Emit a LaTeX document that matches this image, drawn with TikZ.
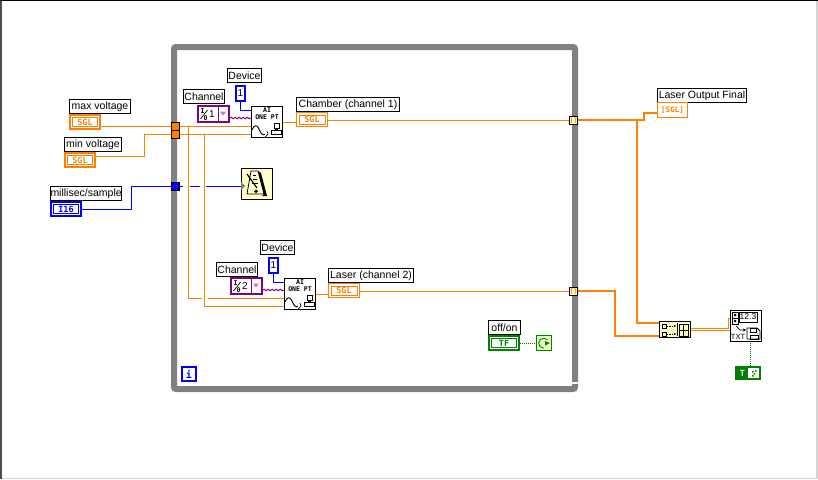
\documentclass[tikz,border=0pt]{standalone}
\usepackage{fontspec}
\setmainfont{Liberation Sans}
\newfontfamily\termfont{DejaVu Sans Mono}
\usetikzlibrary{arrows.meta,decorations.pathmorphing}
\pgfdeclarelayer{bg}
\pgfsetlayers{bg,main}
\definecolor{lvorange}{HTML}{FF8000}
\definecolor{lvblue}{HTML}{0000FF}
\definecolor{lvgreen}{HTML}{007F00}
\definecolor{lvpurple}{HTML}{800080}
\definecolor{lvcream}{HTML}{FFFFCC}
\definecolor{lvstop}{HTML}{E8FFC0}
\tikzset{
    every node/.style={rectangle, inner sep=0mm, draw, anchor=north west, line width=1pt},
    lbl/.style={fill=white, minimum height=14pt, font=\fontsize{10.5}{12}\selectfont},
    icontxt/.style={draw=none, anchor=center, font=\termfont\bfseries\fontsize{6.5}{7}\selectfont, align=center},
    boxed/.style={minimum width=31pt, minimum height=31pt, fill=white},
    inset/.style={path picture={\draw[#1, line width=1pt] ([shift={(2.5pt,2.5pt)}]path picture bounding box.south west) rectangle ([shift={(-2.5pt,-2.5pt)}]path picture bounding box.north east);}},
    sglctl/.style={draw=lvorange, text=lvorange, line width=2pt, fill=white, inset=lvorange, minimum width=30pt, minimum height=14pt, font=\termfont\bfseries\fontsize{8.5}{9}\selectfont},
    sglind/.style={draw=lvorange, text=lvorange, fill=white, inset=lvorange, minimum width=31pt, minimum height=14pt, font=\termfont\bfseries\fontsize{8.5}{9}\selectfont},
    constbox/.style={draw=lvblue, line width=2pt, fill=white, minimum width=9pt, minimum height=15pt, font=\fontsize{10}{11}\selectfont},
    tunnel/.style={draw=black, minimum width=8pt, minimum height=8pt},
    wire/.style={lvorange, line width=1pt},
    fatwire/.style={lvorange, line width=2pt},
    bluewire/.style={lvblue, line width=1pt},
    greenwire/.style={lvgreen, line width=1pt, dash pattern=on 1pt off 1pt},
    ringwire/.style={lvpurple, line width=1pt, decorate, decoration={snake, amplitude=.8pt, segment length=4pt}}
}
% ring control with the I/0 glyph
\newcommand{\ringbox}[4]{
    \node (#1) [draw=lvpurple, line width=2pt, fill=white, minimum width=31pt, minimum height=16pt] at (#2,#3) {};
    \node (#1val) [draw=none, anchor=center, font=\fontsize{10}{11}\selectfont] at (#2+15,#3+9) {#4};
    \node (#1i) [icontxt] at (#2+5.5,#3+6.5) {I};
    \node (#1o) [icontxt] at (#2+8.5,#3+13) {0};
    \draw[line width=.7pt] (#2+3.5,#3+14) -- (#2+10.5,#3+5);
    \draw[lvpurple, line width=1pt] (#2+21,#3) -- (#2+21,#3+18);
    \fill[lvpurple!50] (#2+23,#3+6.7) -- (#2+29,#3+6.7) -- (#2+26,#3+10.5) -- cycle;
}
% analog input glyph
\newcommand{\aiglyph}[2]{
    \begin{scope}[shift={(#1,#2)}]
        \draw[line width=.9pt] (1,24) .. controls (3,19) and (6,18) .. (8,23) .. controls (10,28) and (12,30) .. (14,28);
        \draw[line width=.7pt] (16,25) -- (17,28) -- (14,31);
        \draw[line width=.8pt] (23,17) rectangle (28,22);
        \draw[line width=.8pt] (20,24) rectangle (30,28);
        \draw[line width=.8pt] (24,23) -- (27,23);
    \end{scope}
}
\begin{document}
\begin{tikzpicture}[x=1pt,y=-1pt]
        \useasboundingbox (0,0) rectangle (818,479);
        \fill[black!70] (0,0) rectangle (2,479);
        \fill[black] (0,0) rectangle (818,1);
        \fill[black!17] (2,477.5) rectangle (818,479);
        \fill[black!17] (816,1) rectangle (818,479);
        \node (whileloop) [draw=gray, line width=6pt, rounded corners=2pt, minimum width=401pt, minimum height=342pt] at (171,44) {};
        \fill[white] (571,382) rectangle (579,384);
        % left side terminals
        \node (maxlbl) [lbl, minimum width=61pt] at (69,99) {max voltage};
        \node (maxterm) [sglctl] at (69,114) {SGL};
        \node (minlbl) [lbl, minimum width=57pt] at (64,137) {min voltage};
        \node (minterm) [sglctl] at (64,152) {SGL};
        \node (msecslbl) [lbl, minimum width=71pt] at (50,186) {millisec/sample};
        \node (msecsterm) [sglctl, draw=lvblue, text=lvblue, inset=lvblue] at (50,201) {I16};
        % tunnels
        \node (maxtun) [tunnel, fill=lvorange] at (171,122) {};
        \node (mintun) [tunnel, fill=lvorange] at (171,130) {};
        \node (msecstun) [tunnel, fill=lvblue] at (171,182) {};
        \node (chtun) [tunnel, fill=lvcream, text=lvorange, font=\termfont\bfseries\fontsize{6}{6}\selectfont] at (569,116) {[]};
        \node (lastun) [tunnel, fill=lvcream, text=lvorange, font=\termfont\bfseries\fontsize{6}{6}\selectfont] at (569,287) {[]};
        % first channel
        \node (dev1lbl) [lbl, minimum width=34pt] at (227,68) {Device};
        \node (dev1) [constbox] at (235,85) {1};
        \node (chn1lbl) [lbl, minimum width=41pt] at (183,89) {Channel};
        \ringbox{chn1}{197}{105}{1}
        \node (ai1) [boxed] at (251,106) {};
        \node (ai1txt) [icontxt] at (267,113.5) {AI\\ONE PT};
        \aiglyph{251}{106}
        \node (chlbl) [lbl, minimum width=103pt] at (296,97) {Chamber (channel 1)};
        \node (chterm) [sglind] at (296,112) {SGL};
        \node (metro) [boxed, fill=lvcream] at (241,168) {};
        \begin{scope}[shift={(241,168)}]
            \draw[fill=lvcream, line width=.8pt] (10,3) -- (17,3) -- (23,26) -- (6,26) -- cycle;
            \fill (17,3) -- (20,5) -- (26,28) -- (21,28) -- (23,26) -- cycle;
            \draw[line width=1.2pt] (6,6) -- (16,20);
            \draw[line width=.7pt] (12,7) -- (15,7) (11.5,11) -- (16,11) (11,15) -- (17,15);
            \fill (15,21.5) -- (17,23.5) -- (15,25) -- (13,23.5) -- cycle;
            \fill[gray] (0,14) -- (4,18) -- (0,22) -- cycle;
        \end{scope}
        % second channel
        \node (dev2lbl) [lbl, minimum width=34pt] at (260,240) {Device};
        \node (dev2) [constbox] at (268,257) {1};
        \node (chn2lbl) [lbl, minimum width=41pt] at (216,262) {Channel};
        \ringbox{chn2}{230}{277}{2}
        \node (ai2) [boxed] at (284,278) {};
        \node (ai2txt) [icontxt] at (300,285.5) {AI\\ONE PT};
        \aiglyph{284}{278}
        \node (laslbl) [lbl, minimum width=85pt] at (328,268) {Laser (channel 2)};
        \node (lasterm) [sglind] at (328,283) {SGL};
        % loop furniture
        \node (loopi) [draw=lvblue, line width=2pt, text=lvblue, fill=white, minimum width=14pt, minimum height=14pt, font=\termfont\bfseries\fontsize{10}{10}\selectfont] at (181,366) {i};
        \node (stoplbl) [lbl, minimum width=32pt] at (488,320) {off/on};
        \node (stopterm) [sglctl, draw=lvgreen, text=lvgreen, inset=lvgreen] at (488,335) {TF};
        \node (stopicon) [draw=lvgreen, fill=lvstop, minimum width=15pt, minimum height=15pt] at (536,335) {};
        \draw[lvgreen, line width=.9pt] (547.5,340) arc[start angle=320, end angle=90, radius=5];
        \fill[lvgreen] (545,341) -- (550,343) -- (545,345.5) -- cycle;
        % right side
        \node (outlbl) [lbl, minimum width=89pt] at (657,88) {Laser Output Final};
        \node (outterm) [sglind, path picture={}, minimum width=30pt, minimum height=15pt, font=\termfont\bfseries\fontsize{7.5}{8}\selectfont] at (657,102) {[SGL]};
        \node (build) [boxed, fill=lvcream, minimum height=16pt] at (659,321) {};
        \begin{scope}[shift={(659,321)}, line width=.7pt]
            \draw (3,3) rectangle (7,7);
            \draw (3,11) rectangle (7,15);
            \draw[densely dotted, -{Stealth[length=2pt,width=2pt]}] (8,5) -- (17,5);
            \draw[densely dotted, -{Stealth[length=2pt,width=2pt]}] (8,13) -- (17,13);
            \draw (18,2) -- (18,15);
            \draw (20,3) rectangle (29,15);
            \draw (20,9) -- (29,9);
            \draw (24.5,3) -- (24.5,15);
        \end{scope}
        \node (fileio) [boxed] at (730,310) {};
        \node (fileval) [draw=none, anchor=center, font=\fontsize{8.5}{10}\selectfont] at (748,317) {12.3};
        \node (filetxt) [draw=none, anchor=center, font=\fontsize{7.5}{8}\selectfont] at (738,336.5) {TXT};
        \begin{scope}[shift={(730,310)}, line width=.7pt]
            \draw (2,2) rectangle (8,8);
            \draw (2,8) rectangle (8,14);
            \fill (5,3.5) -- (6.5,5) -- (5,6.5) -- (3.5,5) -- cycle;
            \fill (5,9.5) -- (6.5,11) -- (5,12.5) -- (3.5,11) -- cycle;
            \draw (9,2) rectangle (27,12);
            \draw[-{Stealth[length=3pt,width=3pt]}] (6,16) -- (10,20) -- (16,20);
            \draw[line width=.9pt] (17,18) -- (27,18) -- (30,21) -- (30,29) -- (17,29) -- cycle;
            \draw (20,18) rectangle (26,22);
            \draw (20,25) rectangle (28,29);
        \end{scope}
        \node (appendterm) [draw=lvgreen, line width=2pt, fill=white, minimum width=24pt, minimum height=12pt] at (735,366) {};
        \node (appendt) [draw=lvgreen, fill=lvgreen, text=white, minimum width=10pt, minimum height=10pt, font=\termfont\bfseries\fontsize{8.5}{8}\selectfont] at (737,368) {T};
        \fill[lvgreen] (752,371) rectangle (753.5,372.5) (755,370) rectangle (756.5,371.5) (753.5,373) rectangle (755,374.5) (752,375) rectangle (753.5,376.5);
        \begin{pgfonlayer}{bg}
                \draw[bluewire] ([yshift=-.5pt]msecsterm.east) -- ++(49,0) |- (msecstun);
                \draw[bluewire] (msecstun) -- (msecstun -| metro.west);
                \draw[white, line width=7pt] (186.5,180) -- (186.5,193);
                \draw[white, line width=6pt] (203,180) -- (203,193);
                \coordinate (tapmax) at (188.5,126.5);
                \coordinate (tapmin) at (204.5,134.5);
                \coordinate (tapout) at (637,120);
                \draw[wire] (maxterm.east |- maxtun) -- (maxtun);
                \draw[wire] (maxtun) -- (maxtun -| ai1.west);
                \draw[wire] ([yshift=3.5pt]minterm.east) -- ++(48,0) |- (mintun);
                \draw[wire] (mintun) -- (mintun -| ai1.west);
                \draw[wire] (tapmax) |- ([yshift=-4.5pt]ai2.west);
                \draw[white, line width=6pt] (204.5,297) -- (204.5,300);
                \draw[wire] (tapmin) |- ([yshift=-12.5pt]ai2.west);
                \draw[bluewire] (dev1.south) |- ([yshift=11.5pt]ai1.west);
                \draw[bluewire] (dev2.south) |- ([yshift=11.5pt]ai2.west);
                \draw[ringwire] ([yshift=-4pt]chn1.east) -- ([yshift=-4pt]chn1.east -| ai1.west);
                \draw[ringwire] ([yshift=-4pt]chn2.east) -- ([yshift=-4pt]chn2.east -| ai2.west);
                \draw[wire] ([yshift=-.5pt]ai1.east) -- ([yshift=-.5pt]ai1.east -| chterm.west);
                \draw[wire] (chtun -| chterm.east) -- (chtun);
                \draw[wire] ([yshift=-.5pt]ai2.east) -- ([yshift=-.5pt]ai2.east -| lasterm.west);
                \draw[wire] (lastun -| lasterm.east) -- (lastun);
                \draw[fatwire] ([yshift=.5pt]chtun.center) -- ++(70.5,0) |- ([yshift=-3pt]outterm.west);
                \draw[fatwire] (tapout) |- ([yshift=6.5pt]build.west);
                \draw[fatwire] ([yshift=.5pt]lastun.center) -- ++(41.5,0) |- ([yshift=-6.5pt]build.west);
                \draw[greenwire] ([yshift=-.5pt]stopterm.east) -- ([yshift=-.5pt]stopterm.east -| stopicon.west);
                \draw[wire, double=white, double distance=1pt] (build.east) -- ++(38,0) |- ([yshift=7pt]fileio.west);
                \draw[greenwire] (appendterm.north -| 750.5,0) -- (fileio.south -| 750.5,0);
        \end{pgfonlayer}
\end{tikzpicture}
\end{document}
